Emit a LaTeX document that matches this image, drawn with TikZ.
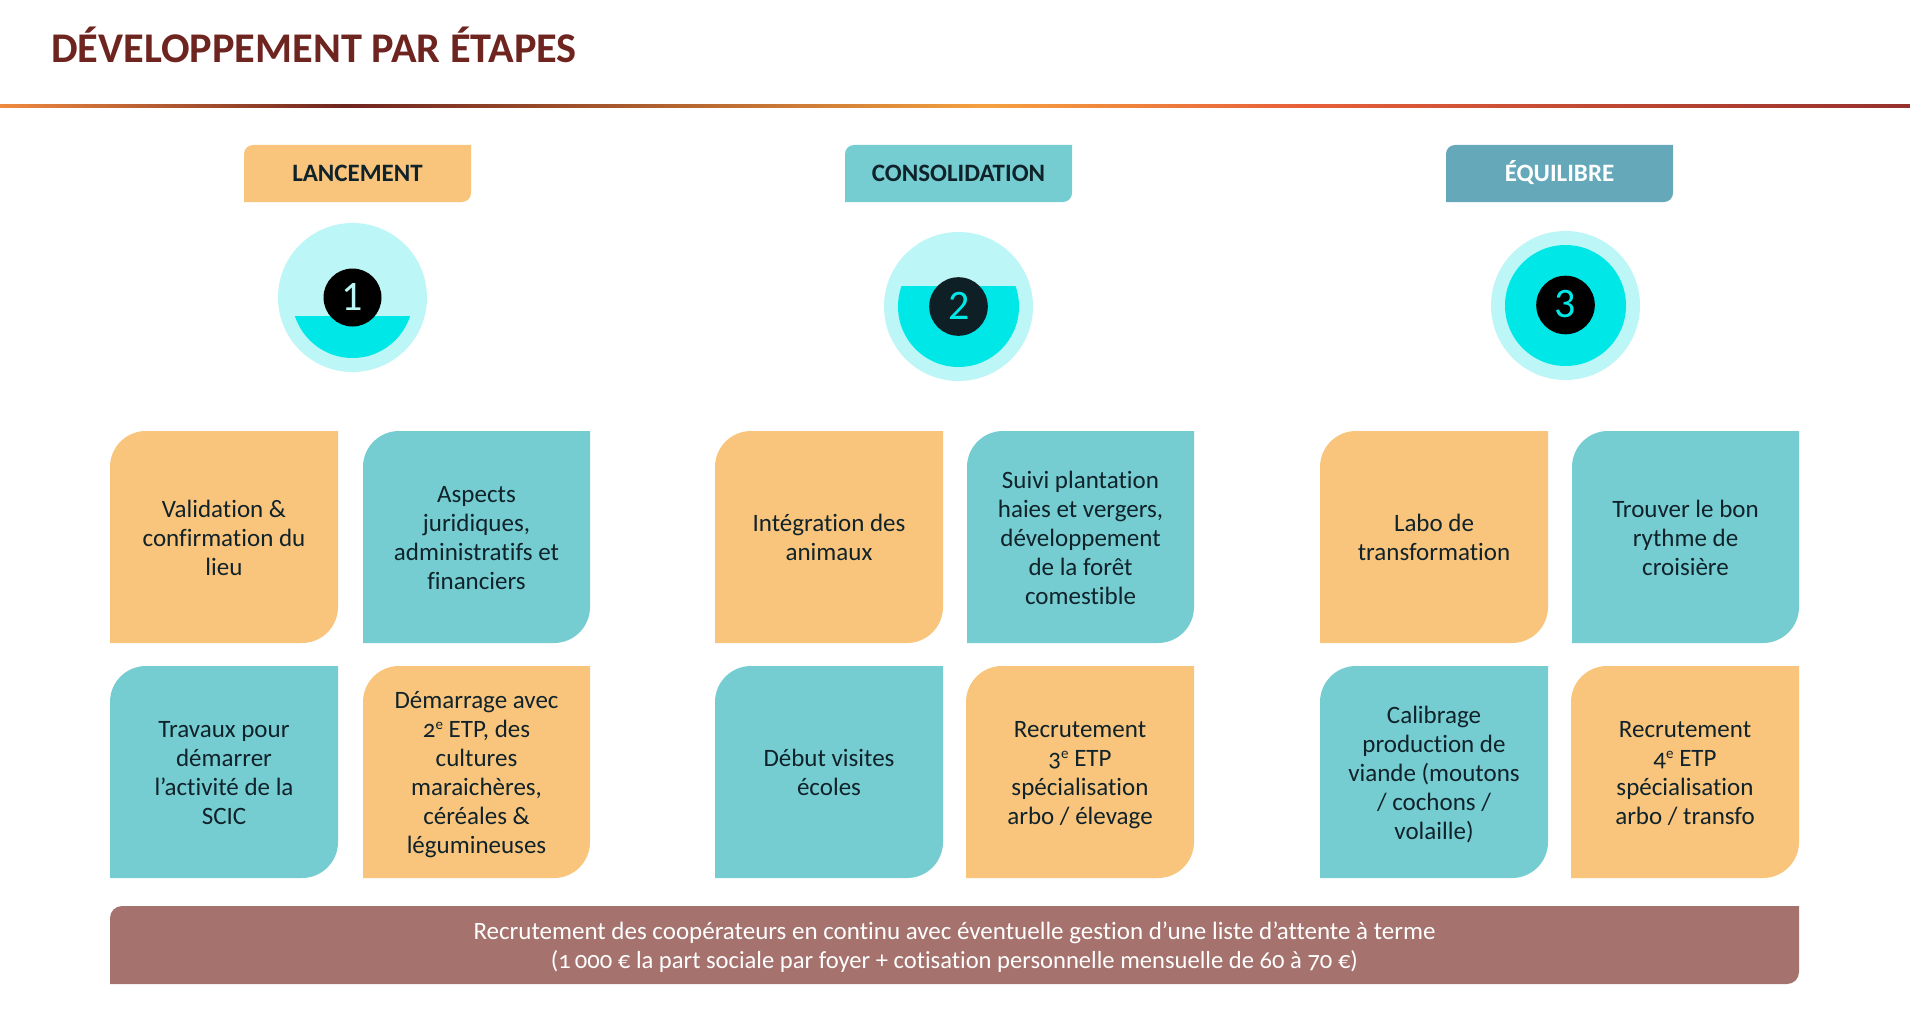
\documentclass[tikz,border=0pt]{standalone}
\usepackage{fontspec}
\setmainfont{Carlito}[Numbers=OldStyle,Ligatures=NoCommon]
\newfontfamily\liningfont{Carlito}[Numbers=Lining]
\definecolor{orangecard}{HTML}{F9C57C}
\definecolor{tealcard}{HTML}{75CDD1}
\definecolor{bluehead}{HTML}{64A8B9}
\definecolor{brownbar}{HTML}{A5726D}
\definecolor{titlebrown}{HTML}{6E241F}
\definecolor{inktext}{HTML}{10222A}
\definecolor{paleaqua}{HTML}{BDF6F6}
\definecolor{aqua}{HTML}{00E7E7}
\definecolor{badgeink}{HTML}{0F1F26}
\definecolor{ruleA}{HTML}{F08A40}
\definecolor{ruleB}{HTML}{6E241F}
\definecolor{ruleC}{HTML}{F5A040}
\definecolor{ruleD}{HTML}{E8603A}
\definecolor{ruleE}{HTML}{96302C}
\pgfdeclarehorizontalshading{rulegrad}{100bp}{
  color(0bp)=(ruleA);
  color(25bp)=(ruleA);
  color(34bp)=(ruleB);
  color(50.8bp)=(ruleC);
  color(59bp)=(ruleD);
  color(75bp)=(ruleE);
  color(100bp)=(ruleE)}
\newcommand{\supe}{\smash{\raisebox{8pt}{\fontsize{15}{15}\selectfont e}}}
\tikzset{
  cardtext/.style={inktext,align=center,anchor=center,inner sep=0pt,font=\fontsize{25}{28.9}\selectfont,
    execute at begin node=\strut,execute at end node=\strut},
  headtext/.style={inktext,anchor=center,font=\fontsize{25}{30}\selectfont\bfseries},
  bartext/.style={white,align=center,anchor=center,inner sep=0pt,font=\fontsize{25}{29.2}\selectfont,
    execute at begin node=\strut,execute at end node=\strut},
  digit/.style={anchor=center,font=\fontsize{42}{42}\selectfont\liningfont}
}
% leaf shape: top-left and bottom-right corners rounded (y axis points down)
\newcommand{\leafshape}[6]{%
  \fill[#6] (#1,#2+#5) arc[start angle=180,end angle=270,radius=#5]
    -- (#3,#2) -- (#3,#4-#5) arc[start angle=0,end angle=90,radius=#5]
    -- (#1,#4) -- cycle;}
\newcommand{\badge}[3]{% cx, cy, flat y
  \fill[paleaqua] (#1,#2) circle[radius=74.5];
  \begin{scope}
    \clip (#1-80,#3) rectangle (#1+80,#2+80);
    \fill[aqua] (#1,#2) circle[radius=60.5];
  \end{scope}
}
\begin{document}
\begin{tikzpicture}[x=1pt,y=-1pt]
\useasboundingbox (0,0) rectangle (1910,1011);
\fill[white] (0,0) rectangle (1910,1011);

\node[titlebrown,anchor=base west,inner sep=0pt,font=\fontsize{42.3}{46}\selectfont\bfseries] (title) at (51,63) {DÉVELOPPEMENT PAR ÉTAPES};
\shade[shading=rulegrad] (0,105) rectangle (1910,108);

% headers
\leafshape{244}{145}{471}{202}{9}{orangecard}
\node[headtext] (h1) at (357.5,173) {LANCEMENT};
\leafshape{845}{145}{1072}{202}{9}{tealcard}
\node[headtext] (h2) at (958.5,173) {CONSOLIDATION};
\leafshape{1446}{145}{1673}{202}{9}{bluehead}
\node[headtext,white] (h3) at (1559.5,173) {ÉQUILIBRE};

% badges
\badge{352.5}{297.5}{316}
\fill[black] (352.5,297.5) circle[radius=29];
\node[digit,paleaqua] (d1) at (352.5,297) {1};
\badge{958.5}{306.5}{286}
\fill[badgeink] (958.5,306.5) circle[radius=29.3];
\node[digit,aqua] (d2) at (959.5,306) {2};
\badge{1565.5}{305.5}{200}
\fill[black] (1565.5,305) circle[radius=29.3];
\node[digit,aqua] (d3) at (1565.5,304.5) {3};

% column 1
\leafshape{110}{431}{338}{643}{36}{orangecard}
\node[cardtext] (c11) at (224,542) {Validation \&\\confirmation du\\lieu};
\leafshape{363}{431}{590}{643}{36}{tealcard}
\node[cardtext] (c12) at (476.5,542) {Aspects\\juridiques,\\administratifs et\\financiers};
\leafshape{110}{666}{338}{878}{36}{tealcard}
\node[cardtext] (c13) at (224,777) {Travaux pour\\démarrer\\l’activité de la\\SCIC};
\leafshape{363}{666}{590}{878}{36}{orangecard}
\node[cardtext] (c14) at (476.5,777) {Démarrage avec\\2\supe{} ETP, des\\cultures\\maraichères,\\céréales \&\\légumineuses};

% column 2
\leafshape{715}{431}{943}{643}{36}{orangecard}
\node[cardtext] (c21) at (829,542) {Intégration des\\animaux};
\leafshape{967}{431}{1194}{643}{36}{tealcard}
\node[cardtext] (c22) at (1080.5,542) {Suivi plantation\\haies et vergers,\\développement\\de la forêt\\comestible};
\leafshape{715}{666}{943}{878}{36}{tealcard}
\node[cardtext] (c23) at (829,777) {Début visites\\écoles};
\leafshape{966}{666}{1194}{878}{36}{orangecard}
\node[cardtext] (c24) at (1080,777) {Recrutement\\3\supe{} ETP\\spécialisation\\arbo / élevage};

% column 3
\leafshape{1320}{431}{1548}{643}{36}{orangecard}
\node[cardtext] (c31) at (1434,542) {Labo de\\transformation};
\leafshape{1572}{431}{1799}{643}{36}{tealcard}
\node[cardtext] (c32) at (1685.5,542) {Trouver le bon\\rythme de\\croisière};
\leafshape{1320}{666}{1548}{878}{36}{tealcard}
\node[cardtext] (c33) at (1434,777) {Calibrage\\production de\\viande (moutons\\/ cochons /\\volaille)};
\leafshape{1571}{666}{1799}{878}{36}{orangecard}
\node[cardtext] (c34) at (1685,777) {Recrutement\\4\supe{} ETP\\spécialisation\\arbo / transfo};

% bar
\leafshape{110}{906}{1799}{984}{12}{brownbar}
\node[bartext] (bar) at (954.5,949.5) {Recrutement des coopérateurs en continu avec éventuelle gestion d’une liste d’attente à terme\\{\fontsize{24.6}{29.2}\selectfont(1\,000 € la part sociale par foyer + cotisation personnelle mensuelle de 60 à 70 €)}};
\end{tikzpicture}
\end{document}
